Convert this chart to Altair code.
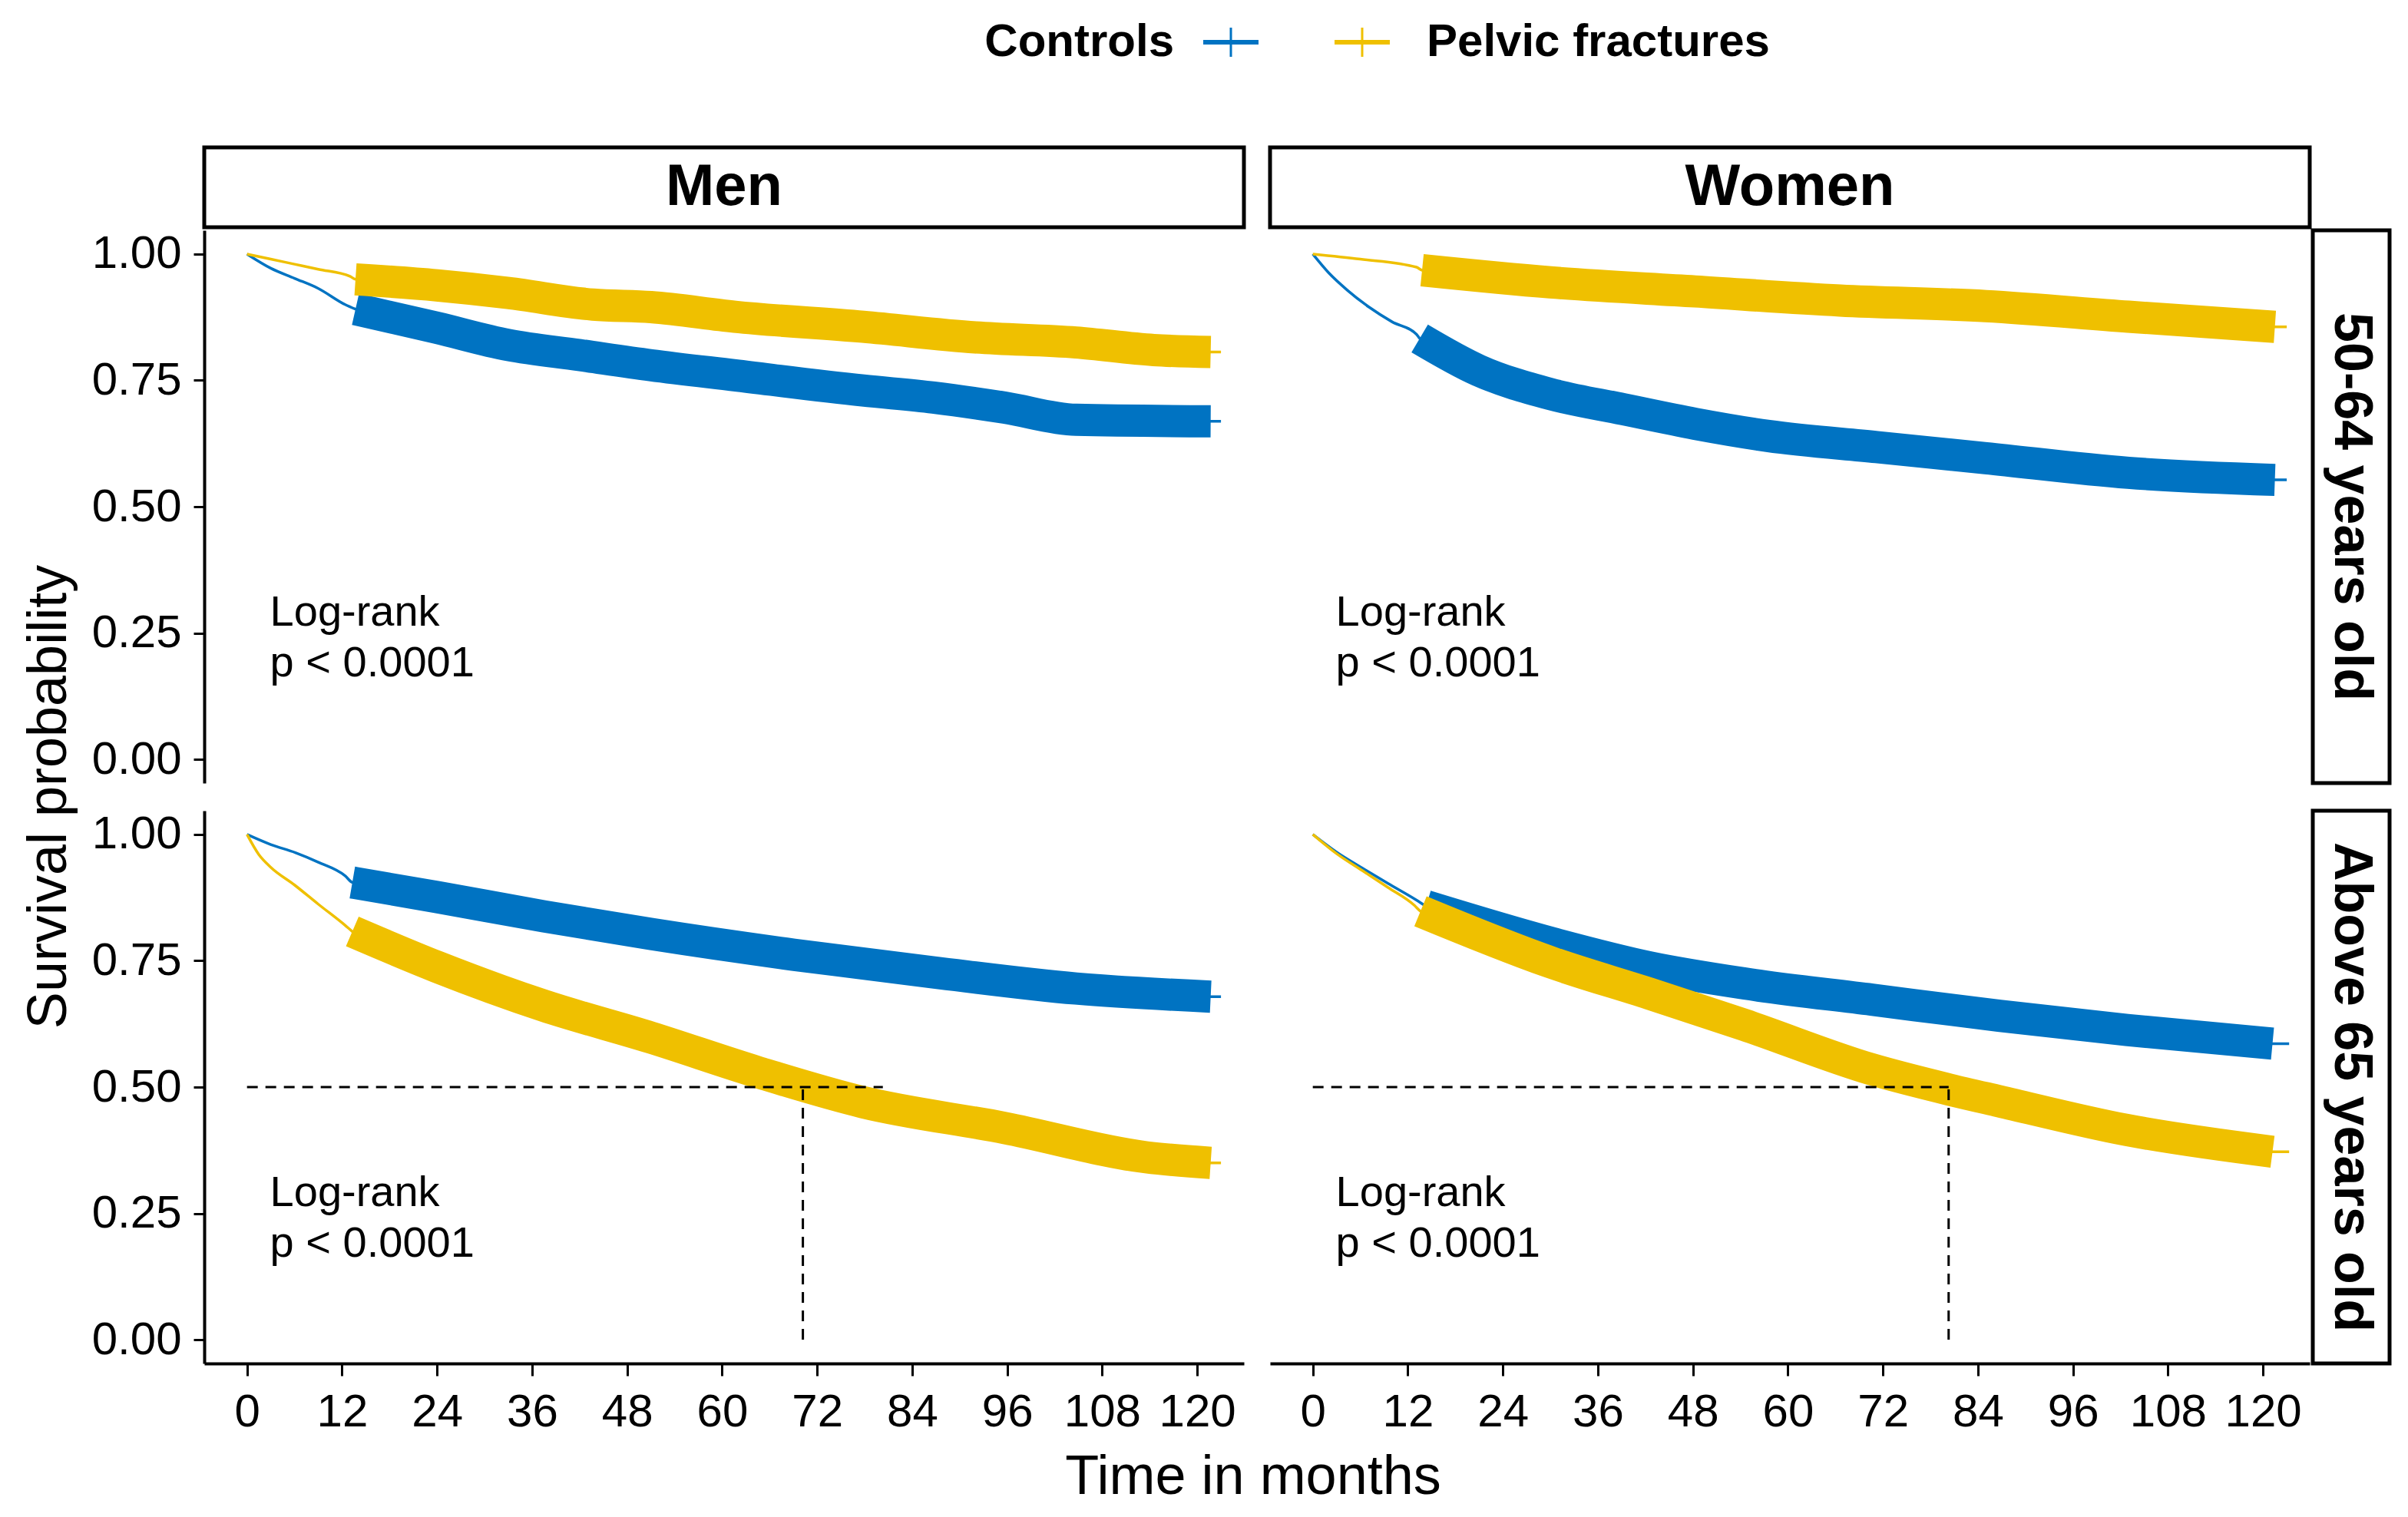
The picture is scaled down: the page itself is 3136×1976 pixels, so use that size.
import altair as alt
import pandas as pd

FONT = "Liberation Sans"
GROUPS = ["Controls", "Pelvic fractures"]
COLORS = ["#0073C2", "#EFC000"]
SEXES = ["Men", "Women"]
AGES = ["50-64 years old", "Above 65 years old"]
X_TICKS = [0, 12, 24, 36, 48, 60, 72, 84, 96, 108, 120]
Y_TICKS = [0, 0.25, 0.5, 0.75, 1.0]
LOGRANK = ["Log-rank", "p < 0.0001"]
LOGRANK_X = [2.9, 2.9]
LOGRANK_Y = [0.29, 0.19]
MEDIAN_LEVEL = 0.5
MEDIAN_HLINE_END = 80.3
MEDIANS = [70.2, 80.3]  # Men, Women (above 65, pelvic fractures)

# ---- survival curves (months, survival) ----
men_young_ctrl_m = [0, 3, 6, 9, 12.4, 13.7, 24, 33, 42, 51, 61.6, 77.8, 86.7, 95.7, 104.7, 121.7, 123]
men_young_ctrl_s = [1.0, 0.972, 0.952, 0.932, 0.9, 0.891, 0.854, 0.82, 0.80, 0.78, 0.76, 0.73, 0.716, 0.696, 0.672, 0.669, 0.669]
men_young_pf_m = [0, 3, 6, 9, 13, 13.7, 24, 33, 43.7, 51, 61.6, 77.8, 92, 104.7, 114.5, 121.7, 123]
men_young_pf_s = [1.0, 0.99, 0.98, 0.97, 0.956, 0.95, 0.938, 0.923, 0.90, 0.895, 0.876, 0.856, 0.835, 0.825, 0.81, 0.806, 0.806]

women_young_ctrl_m = [0, 2, 4.4, 7.1, 10, 13.1, 13.5, 20.9, 30, 39.2, 48.3, 57.5, 71.2, 85, 103, 121.5, 123]
women_young_ctrl_s = [1.0, 0.963, 0.928, 0.895, 0.866, 0.841, 0.833, 0.77, 0.723, 0.693, 0.664, 0.64, 0.618, 0.596, 0.567, 0.553, 0.553]
women_young_pf_m = [0, 6, 13.1, 13.8, 30, 48.3, 66.6, 85, 103, 121.5, 123]
women_young_pf_s = [1.0, 0.99, 0.974, 0.968, 0.944, 0.926, 0.908, 0.897, 0.876, 0.856, 0.856]

men_old_ctrl_m = [0, 3, 6.1, 9, 12.4, 13.3, 24, 37.5, 51, 69, 86.7, 104.7, 121.7, 123]
men_old_ctrl_s = [1.0, 0.98, 0.964, 0.945, 0.918, 0.905, 0.876, 0.838, 0.803, 0.762, 0.727, 0.695, 0.679, 0.679]
men_old_pf_m = [0, 1.5, 3, 6, 9, 12.4, 13.3, 24, 37.5, 51, 64.4, 77.8, 95.7, 113.6, 121.7, 123]
men_old_pf_s = [1.0, 0.96, 0.935, 0.9, 0.862, 0.82, 0.808, 0.738, 0.661, 0.598, 0.53, 0.47, 0.419, 0.361, 0.35, 0.35]

women_old_ctrl_m = [0, 3, 6.3, 9.5, 13.1, 14.3, 30.4, 42.5, 54.5, 70.6, 86.7, 102.8, 121.2, 123.3]
women_old_ctrl_s = [1.0, 0.965, 0.933, 0.903, 0.87, 0.858, 0.784, 0.737, 0.705, 0.673, 0.641, 0.613, 0.586, 0.586]
women_old_pf_m = [0, 3, 6.3, 9.5, 12.8, 13.6, 30.4, 42.5, 54.5, 70.6, 80.4, 86.7, 102.8, 121.2, 123.3]
women_old_pf_s = [1.0, 0.962, 0.928, 0.895, 0.86, 0.848, 0.745, 0.685, 0.623, 0.535, 0.495, 0.472, 0.415, 0.372, 0.372]

SERIES = {
    (0, 0): [(men_young_ctrl_m, men_young_ctrl_s), (men_young_pf_m, men_young_pf_s)],
    (0, 1): [(women_young_ctrl_m, women_young_ctrl_s), (women_young_pf_m, women_young_pf_s)],
    (1, 0): [(men_old_ctrl_m, men_old_ctrl_s), (men_old_pf_m, men_old_pf_s)],
    (1, 1): [(women_old_ctrl_m, women_old_ctrl_s), (women_old_pf_m, women_old_pf_s)],
}

X_DOM = [-5.4, 125.9]
Y_DOM = [-0.047, 1.047]
W, H = 1354, 720


def panel(row, col):
    xs = alt.Scale(domain=X_DOM, nice=False, zero=False)
    ys = alt.Scale(domain=Y_DOM, nice=False, zero=False)
    x_axis = alt.Axis(values=X_TICKS, title=None, labelFlush=False, labelOverlap=False) if row == 1 else None
    y_axis = alt.Axis(values=Y_TICKS, format=".2f", title=None, labelFlush=False, labelOverlap=False) if col == 0 else None

    def X(field):
        return alt.X(field, type="quantitative", scale=xs, axis=x_axis)

    def Y(field):
        return alt.Y(field, type="quantitative", scale=ys, axis=y_axis)

    layers = []
    for (months, surv), color in zip(SERIES[(row, col)], COLORS):
        df = pd.DataFrame({"month": months, "surv": surv})
        thin = alt.Chart(df).mark_line(color=color, strokeWidth=3.5, interpolate="monotone").encode(
            x=X("month"), y=Y("surv"))
        thick = alt.Chart(df).transform_filter(
            "datum.month >= 13.25 && datum.month <= 122"
        ).mark_line(color=color, strokeWidth=42, interpolate="monotone", strokeCap="butt").encode(
            x=X("month"), y=Y("surv"))
        layers += [thin, thick]

    lr = pd.DataFrame({"month": LOGRANK_X, "surv": LOGRANK_Y, "label": LOGRANK})
    layers.append(alt.Chart(lr).mark_text(align="left", baseline="middle", font=FONT, fontSize=56,
                                          color="black").encode(x=X("month"), y=Y("surv"), text="label:N"))

    if row == 1:
        h = pd.DataFrame({"month": [0], "month2": [MEDIAN_HLINE_END], "surv": [MEDIAN_LEVEL]})
        v = pd.DataFrame({"month": [MEDIANS[col]], "surv": [0], "surv2": [MEDIAN_LEVEL]})
        layers.append(alt.Chart(h).mark_rule(color="black", strokeWidth=3, strokeDash=[14, 10]).encode(
            x=X("month"), x2="month2:Q", y=Y("surv")))
        layers.append(alt.Chart(v).mark_rule(color="black", strokeWidth=3, strokeDash=[14, 10]).encode(
            x=X("month"), y=Y("surv"), y2="surv2:Q"))

    # top strips
    if row == 0:
        sdf = pd.DataFrame({"label": [SEXES[col]]})
        layers.append(alt.Chart(sdf).mark_rect(fill="white", stroke="black", strokeWidth=5).encode(
            x=alt.value(0), x2=alt.value(W), y=alt.value(-108), y2=alt.value(-4)))
        layers.append(alt.Chart(sdf).mark_text(font=FONT, fontSize=76, fontWeight="bold", color="black",
                                               baseline="middle").encode(
            x=alt.value(W / 2), y=alt.value(-56), text="label:N"))
    # right strips
    if col == 1:
        rdf = pd.DataFrame({"label": [AGES[row]]})
        layers.append(alt.Chart(rdf).mark_rect(fill="white", stroke="black", strokeWidth=5).encode(
            x=alt.value(W + 4), x2=alt.value(W + 104), y=alt.value(0), y2=alt.value(H)))
        layers.append(alt.Chart(rdf).mark_text(font=FONT, fontSize=70, fontWeight="bold", color="black",
                                               angle=90, baseline="middle").encode(
            x=alt.value(W + 54), y=alt.value(H / 2), text="label:N"))

    one = pd.DataFrame({"k": [0]})
    if row == 0 and col == 0:
        # legend
        ly = -245
        layers.append(alt.Chart(pd.DataFrame({"label": [GROUPS[0]]})).mark_text(
            font=FONT, fontSize=60, fontWeight="bold", align="right", baseline="middle", color="black").encode(
            x=alt.value(1263), y=alt.value(ly), text="label:N"))
        layers.append(alt.Chart(pd.DataFrame({"label": [GROUPS[1]]})).mark_text(
            font=FONT, fontSize=60, fontWeight="bold", align="left", baseline="middle", color="black").encode(
            x=alt.value(1592), y=alt.value(ly), text="label:N"))
        for cx, color in zip([1337, 1508], COLORS):
            layers.append(alt.Chart(one).mark_rule(color=color, strokeWidth=6).encode(
                x=alt.value(cx - 36), x2=alt.value(cx + 36), y=alt.value(ly)))
            layers.append(alt.Chart(one).mark_rule(color=color, strokeWidth=3).encode(
                x=alt.value(cx), y=alt.value(ly - 19), y2=alt.value(ly + 19)))
        # y title spanning both rows
        layers.append(alt.Chart(pd.DataFrame({"label": ["Survival probability"]})).mark_text(
            font=FONT, fontSize=72, angle=270, baseline="middle", color="black").encode(
            x=alt.value(-202), y=alt.value(H + 18), text="label:N"))
    if row == 1 and col == 0:
        layers.append(alt.Chart(pd.DataFrame({"label": ["Time in months"]})).mark_text(
            font=FONT, fontSize=72, baseline="middle", color="black").encode(
            x=alt.value(1366), y=alt.value(868), text="label:N"))

    return alt.layer(*layers).properties(width=W, height=H)


chart = alt.concat(
    panel(0, 0), panel(0, 1), panel(1, 0), panel(1, 1),
    columns=2, spacing={"row": 36, "column": 34}, bounds="flush"
).properties(
    padding={"left": 20, "top": 17, "right": 5, "bottom": 5}
).configure_view(stroke=None).configure_axis(
    labelFont=FONT, labelFontSize=60, labelColor="black", tickColor="black", domainColor="black",
    domainWidth=4, tickWidth=3, grid=False
).configure_axisX(labelPadding=18, tickSize=16).configure_axisY(labelPadding=16, tickSize=14)

chart.save("out.html", embed_options={"renderer": "svg", "actions": False})
